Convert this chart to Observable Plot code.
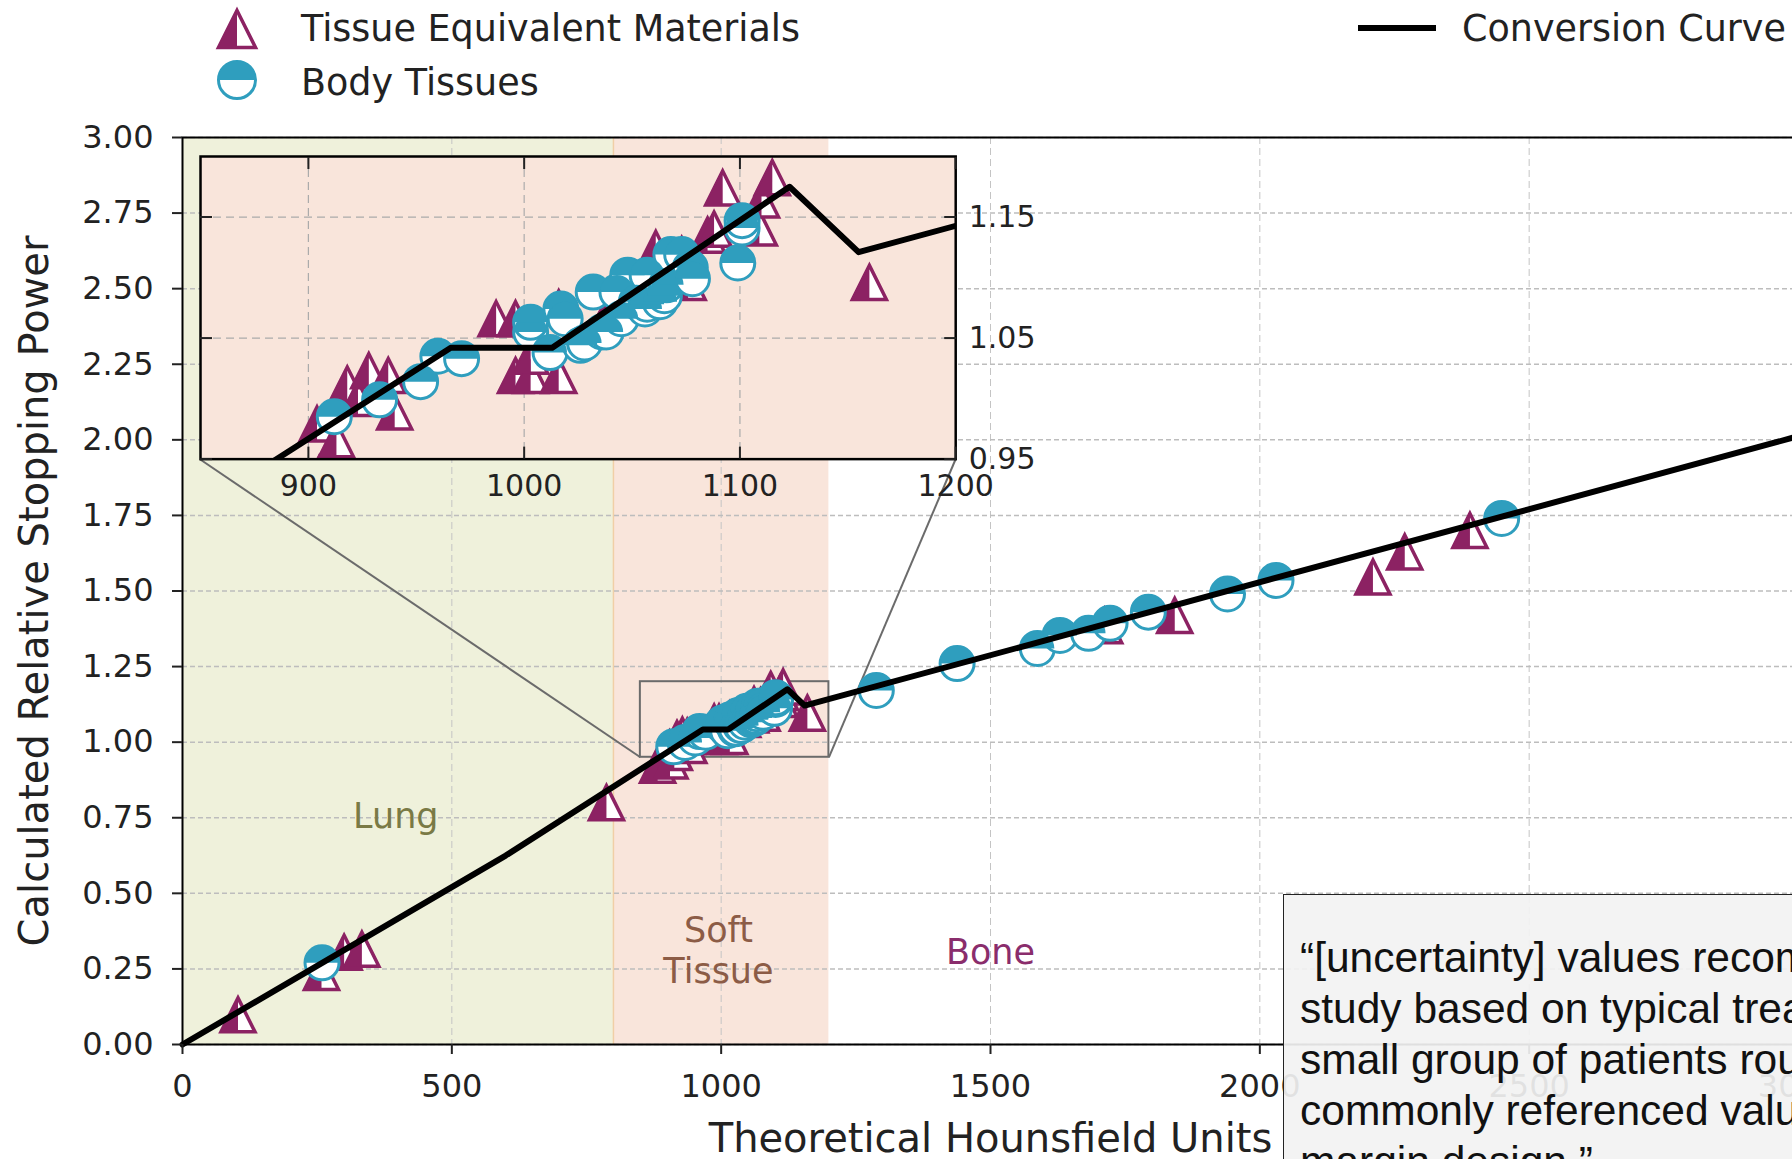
<!DOCTYPE html>
<html>
<head>
<meta charset="utf-8">
<script src="https://cdn.jsdelivr.net/npm/d3@7"></script>
<script src="https://cdn.jsdelivr.net/npm/@observablehq/plot@0.6"></script>
<style>
html, body { margin:0; padding:0; overflow:hidden; background:#fff; }
#wrap { position:relative; width:1792px; height:1159px; overflow:hidden; font-family:"DejaVu Sans", sans-serif; }
#wrap svg { max-width:none; }
#note { position:absolute; left:1283px; top:894px; width:820px; height:400px; box-sizing:border-box;
  background:rgba(242,242,242,0.92); border:1.5px solid #222; padding:37px 0 0 16px;
  font-family:"Liberation Sans", Arial, sans-serif; font-size:42.5px; line-height:51px; color:#111; white-space:pre; }
</style>
</head>
<body>
<div id="wrap"></div>
<script>
// ---------------- data ----------------
const curveHU  = [0, 600, 966, 1013, 1123, 1155, 3000];
const curveRSP = [0, 0.625, 1.042, 1.042, 1.175, 1.121, 2.012];

// Tissue Equivalent Materials (triangles)
const tissueHU  = [103, 258, 300, 333, 787, 882, 905,
  904, 913, 918, 923, 928, 937, 940, 987, 996, 996, 1003, 1003, 1016, 1016, 1040, 1055,
  1061, 1073, 1076, 1085, 1088, 1092, 1109, 1110, 1115, 1160,
  1712, 1842, 2210, 2269, 2390];
const tissueRSP = [0.098, 0.238, 0.305, 0.315, 0.800, 0.924, 0.938,
  0.979, 0.966, 1.012, 1.000, 1.023, 1.019, 0.989, 1.066, 1.066, 1.019, 1.019, 1.035, 1.019, 1.075, 1.075, 1.090,
  1.124, 1.119, 1.096, 1.135, 1.140, 1.174, 1.141, 1.164, 1.1825, 1.096,
  1.385, 1.419, 1.546, 1.629, 1.700];

// Body Tissues (circles)
const bodyHU  = [259,
  912, 933, 952, 960, 971, 1003, 1003, 1012, 1017, 1019, 1026, 1028, 1032, 1036, 1038, 1043,
  1045, 1048, 1052, 1056, 1057, 1057, 1063, 1065, 1066, 1068, 1073, 1077, 1078, 1099, 1101, 1101,
  1288, 1438, 1587, 1629, 1682, 1722, 1793, 1940, 2030, 2449];
const bodyRSP = [0.270,
  0.985, 0.999, 1.014, 1.035, 1.033, 1.055, 1.063, 1.038, 1.074, 1.066, 1.044, 1.046, 1.088, 1.055, 1.055, 1.088,
  1.066, 1.102, 1.080, 1.074, 1.078, 1.102, 1.080, 1.085, 1.094, 1.119, 1.119, 1.108, 1.099, 1.112, 1.141, 1.147,
  1.171, 1.260, 1.310, 1.353, 1.360, 1.393, 1.430, 1.490, 1.535, 1.740];

const regionName  = ["Lung", "Soft Tissue"];
const regionStart = [0, 800];
const regionEnd   = [800, 1200];
const regionFill  = ["#eff1db", "#f9e5db"];

const labelText  = ["Lung", "Soft\nTissue", "Bone"];
const labelHU    = [396, 995, 1500];
const labelRSP   = [0.761, 0.316, 0.311];
const labelColor = ["#7a7a45", "#8c5c46", "#8a2d6c"];

const xTicks = [0, 500, 1000, 1500, 2000, 2500, 3000];
const yTicks = [0, 0.25, 0.5, 0.75, 1, 1.25, 1.5, 1.75, 2, 2.25, 2.5, 2.75, 3];

const zoomHU  = [850, 1200];
const zoomRSP = [0.95, 1.2];
const insetHU  = [33, 1435];      // where the inset sits, in main data units
const insetRSP = [1.935, 2.936];
const insetXTicks = [900, 1000, 1100, 1200];
const insetYTicks = [0.95, 1.05, 1.15];

const legendLabels = ["Tissue Equivalent Materials", "Body Tissues", "Conversion Curve"];
const xLabel = "Theoretical Hounsfield Units";
const yLabel = "Calculated Relative Stopping Power";
const noteLines = [
  "\u201C[uncertainty] values recommended in this",
  "study based on typical treatment sites and a",
  "small group of patients roughly agree with the",
  "commonly referenced value (3.5%) used for",
  "margin design.\u201D"
];

// ---------------- tables ----------------
const curve  = curveHU.map((x, i) => ({x, y: curveRSP[i]}));
const tissue = tissueHU.map((x, i) => ({x, y: tissueRSP[i]}));
const body   = bodyHU.map((x, i) => ({x, y: bodyRSP[i]}));
const regions = regionName.map((n, i) => ({name: n, x1: regionStart[i], x2: regionEnd[i], fill: regionFill[i]}));
const labels = labelText.map((t, i) => ({t, x: labelHU[i], y: labelRSP[i], c: labelColor[i]}));

const MAG = "#8c2263", CYAN = "#2f9ebe";
const R = 17;
const intFmt = d3.format("d");

const rad = s => Math.sqrt(s / Math.PI);
const triFull  = {draw(c, s) { const r = rad(s); c.moveTo(0, -r); c.lineTo(r, r); c.lineTo(-r, r); c.closePath(); }};
const triLeft  = {draw(c, s) { const r = rad(s); c.moveTo(0, -r); c.lineTo(0, r); c.lineTo(-r, r); c.closePath(); }};
const circFull = {draw(c, s) { const r = rad(s); c.moveTo(r, 0); c.arc(0, 0, r, 0, 2 * Math.PI); c.closePath(); }};
const circTop  = {draw(c, s) { const r = rad(s); c.moveTo(-r, 0); c.arc(0, 0, r, Math.PI, 2 * Math.PI); c.closePath(); }};

function markers(clip) {
  return [
    Plot.dot(tissue, {x: "x", y: "y", symbol: triFull, r: R, fill: "white", stroke: MAG, strokeWidth: 3.5, clip}),
    Plot.dot(tissue, {x: "x", y: "y", symbol: triLeft, r: R, fill: MAG, clip}),
    Plot.dot(body, {x: "x", y: "y", symbol: circFull, r: R, fill: "white", stroke: CYAN, strokeWidth: 3, clip}),
    Plot.dot(body, {x: "x", y: "y", symbol: circTop, r: R, fill: CYAN, clip})
  ];
}

const wrap = document.getElementById("wrap");

// ---------------- main chart ----------------
const main = Plot.plot({
  width: 1800, height: 1159,
  marginLeft: 182, marginRight: 2, marginTop: 137, marginBottom: 115,
  x: {domain: [0, 3000]},
  y: {domain: [0, 3]},
  color: {type: "identity"},
  style: {fontFamily: "DejaVu Sans", color: "#222", background: "transparent", maxWidth: "none", overflow: "visible"},
  marks: [
    Plot.rect(regions, {x1: "x1", x2: "x2", fill: "fill"}),
    Plot.ruleX([regionStart[1]], {stroke: "#f0cfa6", strokeWidth: 1.5}),
    Plot.gridX(xTicks, {stroke: "#c4c4c4", strokeOpacity: 1, strokeWidth: 1, strokeDasharray: "7,4"}),
    Plot.gridY(yTicks, {stroke: "#bdbdbd", strokeOpacity: 1, strokeWidth: 1.5, strokeDasharray: "5,3"}),
    Plot.text(labels, {x: "x", y: "y", text: "t", fill: "c", fontSize: 35, lineHeight: 1.17}),
    Plot.link([
      {x1: insetHU[0], y1: insetRSP[0], x2: zoomHU[0], y2: zoomRSP[0]},
      {x1: insetHU[1], y1: insetRSP[0], x2: zoomHU[1], y2: zoomRSP[0]}
    ], {x1: "x1", y1: "y1", x2: "x2", y2: "y2", stroke: "#6b6b6b", strokeWidth: 2}),
    Plot.rect([{x1: zoomHU[0], x2: zoomHU[1], y1: zoomRSP[0], y2: zoomRSP[1]}],
      {x1: "x1", x2: "x2", y1: "y1", y2: "y2", fill: "none", stroke: "#6b6b6b", strokeWidth: 2}),
    Plot.frame({stroke: "black", strokeWidth: 2}),
    ...markers(false),
    Plot.line(curve, {x: "x", y: "y", stroke: "black", strokeWidth: 6}),
    Plot.axisX({ticks: xTicks, tickFormat: intFmt, tickSize: 10, tickPadding: 20, fontSize: 32, strokeWidth: 2, label: null}),
    Plot.axisX({ticks: [], label: xLabel, labelAnchor: "center", labelArrow: "none", labelOffset: 107, fontSize: 40}),
    Plot.axisY({ticks: yTicks, tickFormat: d3.format(".2f"), tickSize: 10, tickPadding: 19, fontSize: 32, strokeWidth: 2, label: null}),
    Plot.axisY({ticks: [], label: yLabel, labelAnchor: "center", labelArrow: "none", labelOffset: 163, fontSize: 40})
  ]
});
main.style.position = "absolute";
main.style.left = "0px";
main.style.top = "0px";
wrap.appendChild(main);

// ---------------- inset ----------------
const sx = main.scale("x"), sy = main.scale("y");
const ix0 = sx.apply(insetHU[0]), ix1 = sx.apply(insetHU[1]);
const iy0 = sy.apply(insetRSP[1]), iy1 = sy.apply(insetRSP[0]);
const ml = 10, mt = 10, mr = 100, mb = 60;
const inset = Plot.plot({
  width: ix1 - ix0 + ml + mr, height: iy1 - iy0 + mt + mb,
  marginLeft: ml, marginRight: mr, marginTop: mt, marginBottom: mb,
  x: {domain: zoomHU},
  y: {domain: zoomRSP},
  color: {type: "identity"},
  style: {fontFamily: "DejaVu Sans", color: "#222", background: "transparent", maxWidth: "none", overflow: "visible"},
  marks: [
    Plot.frame({fill: "white"}),
    Plot.rect(regions, {x1: "x1", x2: "x2", fill: "fill", clip: true}),
    Plot.gridX(insetXTicks, {stroke: "#ababab", strokeOpacity: 1, strokeWidth: 1.2, strokeDasharray: "8,5"}),
    Plot.gridY(insetYTicks, {stroke: "#ababab", strokeOpacity: 1, strokeWidth: 1.2, strokeDasharray: "8,5"}),
    ...markers(true),
    Plot.line(curve, {x: "x", y: "y", stroke: "black", strokeWidth: 6, clip: true}),
    Plot.frame({stroke: "black", strokeWidth: 2.5}),
    Plot.axisX({anchor: "bottom", ticks: insetXTicks, tickFormat: intFmt, tickSize: -12, tickPadding: 28, fontSize: 30, strokeWidth: 2, label: null}),
    Plot.axisX({anchor: "top", ticks: insetXTicks, tickSize: -12, tickFormat: () => "", strokeWidth: 2, label: null}),
    Plot.axisY({anchor: "right", ticks: insetYTicks, tickSize: -12, tickPadding: 25, tickFormat: d3.format(".2f"), fontSize: 30, strokeWidth: 2, label: null}),
    Plot.axisY({anchor: "left", ticks: insetYTicks, tickSize: -12, tickFormat: () => "", strokeWidth: 2, label: null})
  ]
});
inset.style.position = "absolute";
inset.style.left = (ix0 - ml) + "px";
inset.style.top = (iy0 - mt) + "px";
wrap.appendChild(inset);

// ---------------- legend ----------------
const LR = 18.5;
const pathOf = (sym) => { const p = d3.path(); sym.draw(p, Math.PI * LR * LR); return p.toString(); };
const leg = d3.create("svg").attr("width", 1792).attr("height", 130)
  .style("position", "absolute").style("left", "0px").style("top", "0px")
  .style("font-family", "DejaVu Sans");
const g1 = leg.append("g").attr("transform", "translate(237,29)");
g1.append("path").attr("d", pathOf(triFull)).attr("fill", "white").attr("stroke", MAG).attr("stroke-width", 3.5);
g1.append("path").attr("d", pathOf(triLeft)).attr("fill", MAG);
const g2 = leg.append("g").attr("transform", "translate(237,80)");
g2.append("path").attr("d", pathOf(circFull)).attr("fill", "white").attr("stroke", CYAN).attr("stroke-width", 3);
g2.append("path").attr("d", pathOf(circTop)).attr("fill", CYAN);
leg.append("text").attr("x", 301).attr("y", 41).attr("font-size", 36.5).attr("fill", "#222").text(legendLabels[0]);
leg.append("text").attr("x", 301).attr("y", 95).attr("font-size", 36.5).attr("fill", "#222").text(legendLabels[1]);
leg.append("line").attr("x1", 1358).attr("x2", 1436).attr("y1", 28).attr("y2", 28).attr("stroke", "black").attr("stroke-width", 6);
leg.append("text").attr("x", 1462).attr("y", 41).attr("font-size", 36.5).attr("fill", "#222").text(legendLabels[2]);
wrap.appendChild(leg.node());

// ---------------- annotation box ----------------
const note = document.createElement("div");
note.id = "note";
note.textContent = noteLines.join("\n");
wrap.appendChild(note);
</script>
</body>
</html>
